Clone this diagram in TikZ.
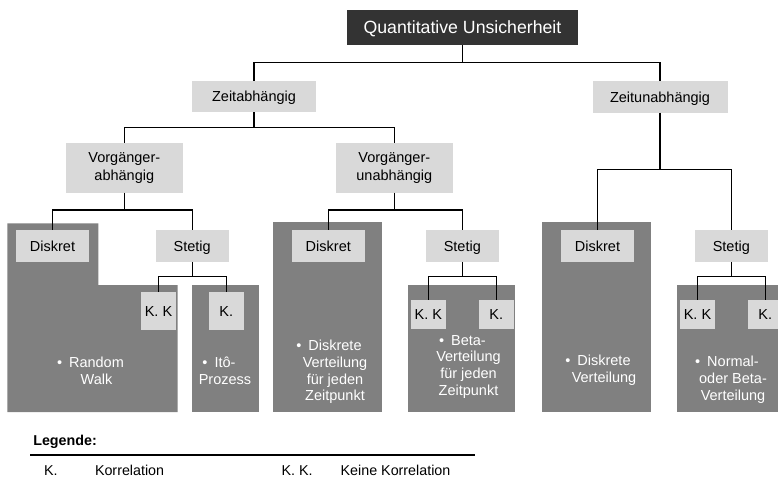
\documentclass[tikz,border=0pt]{standalone}
\usepackage{fontspec}
\setmainfont{Liberation Sans}
\definecolor{rootfill}{HTML}{333333}
\definecolor{panel}{HTML}{808080}
\definecolor{labelfill}{HTML}{D9D9D9}
\newcommand{\bul}{\llap{\textbullet\hspace{7pt}}}
\begin{document}
\begin{tikzpicture}[x=1pt,y=-1pt,
  every node/.style={inner sep=0pt, outer sep=0pt},
  txt/.style={font=\fontsize{14.5}{17.5}\selectfont, align=center},
  capcentre/.style={text height=10.4pt, text depth=0pt},
  rootbox/.style={fill=rootfill, text=white, minimum width=231pt, minimum height=35pt,
    font=\fontsize{17.7}{20}\selectfont, text height=12.7pt, text depth=0pt},
  lab/.style={txt, fill=labelfill, text=black, minimum width=73pt, minimum height=31.5pt},
  onelab/.style={lab, capcentre},
  widelab/.style={onelab, minimum width=124pt},
  twolab/.style={lab, minimum width=116.7pt, minimum height=49.7pt},
  kbox/.style={onelab, minimum width=35pt, minimum height=37.5pt},
  kboxs/.style={onelab, minimum width=35pt, minimum height=29.5pt},
  panelbox/.style={fill=panel, anchor=north west},
  ptext/.style={font=\fontsize{14.5}{16.7}\selectfont, align=center, text=white},
  conn/.style={draw=black, line width=1.2pt},
  legtext/.style={font=\fontsize{14.3}{17}\selectfont, anchor=base west}
]
\clip (0,0) rectangle (778,477);

% grey panels behind the leaves
\fill[panel] (7.3,223.3) -- (98.3,223.3) -- (98.3,285) -- (177.7,285)
  -- (177.7,412) -- (7.3,412) -- cycle;
\node[panelbox, minimum width=67pt,  minimum height=127pt]   (p2) at (192.3,285) {};
\node[panelbox, minimum width=109pt, minimum height=189.4pt] (p3) at (272.7,222.3) {};
\node[panelbox, minimum width=106.7pt, minimum height=126.7pt] (p4) at (408.3,285) {};
\node[panelbox, minimum width=109.3pt, minimum height=189.4pt] (p5) at (541.7,222.3) {};
\node[panelbox, minimum width=110pt, minimum height=126.7pt] (p6) at (676.7,285) {};

% tree nodes
\node[rootbox] (root) at (462.5,27.5) {Quantitative Unsicherheit};
\node[widelab] (za) at (254,96.3) {Zeitabhängig};
\node[widelab, minimum width=135pt] (zu) at (660,96.8) {Zeitunabhängig};
\node[twolab] (va) at (124.3,167.8) {Vorgänger-\\abhängig};
\node[twolab] (vu) at (394.3,167.8) {Vorgänger-\\unabhängig};

\node[onelab] (d1) at (52.5,246) {Diskret};
\node[onelab] (s1) at (192.2,246) {Stetig};
\node[onelab] (d2) at (328.3,246) {Diskret};
\node[onelab] (s2) at (462.3,246) {Stetig};
\node[onelab] (d3) at (597.5,246) {Diskret};
\node[onelab] (s3) at (731.3,246) {Stetig};

\node[kbox]  (kk1) at (158.5,311.2) {K. K};
\node[kbox]  (k1)  at (226.2,311.2) {K.};
\node[kboxs] (kk2) at (428.3,314.7) {K. K};
\node[kboxs] (k2)  at (496.3,314.7) {K.};
\node[kboxs] (kk3) at (697.5,314.7) {K. K};
\node[kboxs] (k3)  at (765.2,314.7) {K.};

% panel texts
\node[ptext] (t1) at (96.5,370.8) {\bul Random\\Walk};
\node[ptext] (t2) at (225,370.8) {\bul Itô-\\Prozess};
\node[ptext] (t3) at (335,372) {\bul Diskrete\\Verteilung\\für jeden\\Zeitpunkt};
\node[ptext] (t4) at (468.5,366.8) {\bul Beta-\\Verteilung\\für jeden\\Zeitpunkt};
\node[ptext] (t5) at (604,370.5) {\bul Diskrete\\Verteilung};
\node[ptext] (t6) at (733,379.7) {\bul Normal-\\oder Beta-\\Verteilung};

% connectors
\draw[conn] (root.south) -- ++(0,17.7) coordinate (b0);
\draw[conn] (b0) -| (za.north);
\draw[conn] (b0) -| (zu.north);

\draw[conn] (za.south) -- ++(0,15.3) coordinate (b1);
\draw[conn] (b1) -| (va.north);
\draw[conn] (b1) -| (vu.north);

\draw[conn] (zu.south) -- ++(0,57.3) coordinate (b2);
\draw[conn] (b2) -| (d3.north);
\draw[conn] (b2) -| (s3.north);

\draw[conn] (va.south) -- ++(0,17.3) coordinate (b3);
\draw[conn] (b3) -| (d1.north);
\draw[conn] (b3) -| (s1.north);

\draw[conn] (vu.south) -- ++(0,17.3) coordinate (b4);
\draw[conn] (b4) -| (d2.north);
\draw[conn] (b4) -| (s2.north);

\draw[conn] (s1.south) -- ++(0,15) coordinate (b5);
\draw[conn] (b5) -| (kk1.north);
\draw[conn] (b5) -| (k1.north);

\draw[conn] (s2.south) -- ++(0,15) coordinate (b6);
\draw[conn] (b6) -| (kk2.north);
\draw[conn] (b6) -| (k2.north);

\draw[conn] (s3.south) -- ++(0,15) coordinate (b7);
\draw[conn] (b7) -| (kk3.north);
\draw[conn] (b7) -| (k3.north);

% legend
\node[legtext, font=\fontsize{14.3}{17}\selectfont\bfseries] (leg) at (33.3,445.8) {Legende:};
\coordinate (rl) at (30,455);
\coordinate (rr) at (475,455);
\draw[line width=1.6pt] (rl) -- (rr);
\node[legtext] (l1) at (44,475.1) {K.};
\node[legtext] (l2) at (95,475.1) {Korrelation};
\node[legtext] (l3) at (281.7,475.1) {K. K.};
\node[legtext] (l4) at (340.7,475.1) {Keine Korrelation};
\end{tikzpicture}
\end{document}
